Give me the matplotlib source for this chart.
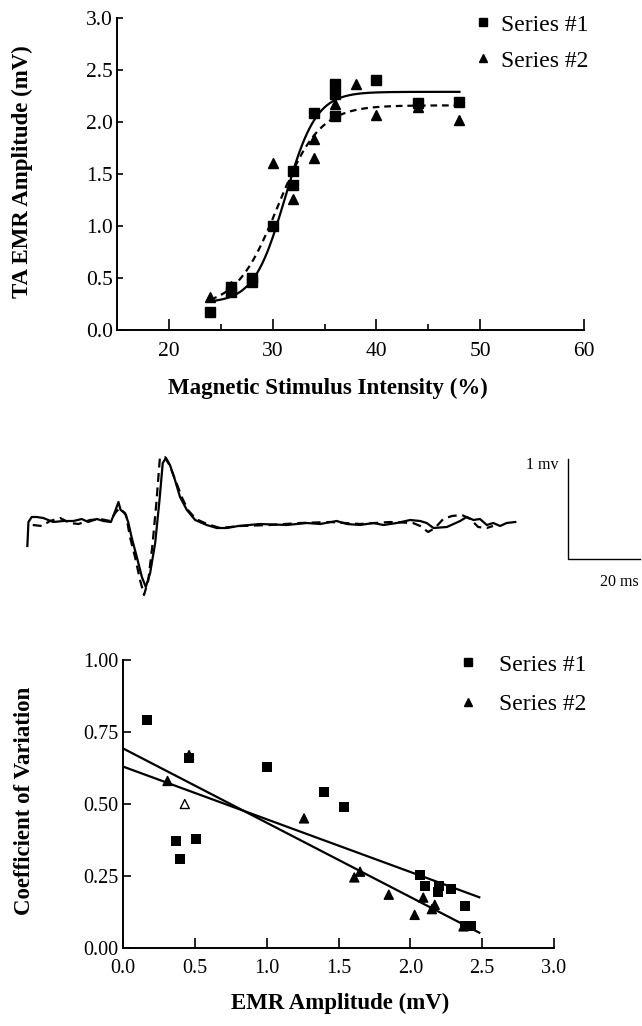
import numpy as np
import matplotlib
matplotlib.use("Agg")
import matplotlib.pyplot as plt
from matplotlib.lines import Line2D

plt.rcParams['font.family'] = ['Liberation Serif', 'DejaVu Serif']
plt.rcParams['mathtext.default'] = 'regular'

# ---------------- data: top panel (recruitment curve) ----------------
top_s1_x = [24, 26, 26, 28, 28, 30, 32, 32, 34, 36, 36, 36, 40, 44, 48]
top_s1_y = [0.17, 0.37, 0.41, 0.46, 0.50, 1.00, 1.53, 1.39, 2.09, 2.37, 2.27, 2.06, 2.40, 2.18, 2.19]
top_s2_x = [24, 26, 30, 32, 34, 34, 36, 38, 40, 44, 48]
top_s2_y = [0.32, 0.42, 1.61, 1.26, 1.84, 1.65, 2.17, 2.37, 2.07, 2.14, 2.02]
# Boltzmann fit parameters (bottom, top, midpoint, slope)
fit1_params = (0.26, 2.29, 31.2, 1.5)
fit2_params = (0.22, 2.16, 30.5, 2.0)
fit_range = (24, 48)
top_xticks = [20, 30, 40, 50, 60]
top_yticks = [0.0, 0.5, 1.0, 1.5, 2.0, 2.5, 3.0]

# ---------------- data: middle panel (EMR traces) ----------------
trace1_ms = [0.1, 0.4, 1.3, 2.7, 4.5, 7.3, 10.1, 12.9, 15.2, 17.0, 19.4, 21.2, 23.3, 24.4, 25.4,
             26.0, 27.2, 28.1, 29.1, 30.5, 31.9, 33.0, 34.2, 35.6, 36.8, 37.7, 38.6, 39.7, 41.1,
             42.5, 44.4, 46.7, 49.9, 52.7, 55.5, 58.7, 64.7, 72.1, 77.7, 81.4, 86.0, 88.8, 92.5,
             96.2, 99.0, 102.7, 106.4, 109.2, 111.0, 112.9, 116.6, 120.3, 122.1, 124.0, 125.8,
             127.7, 129.5, 131.4, 133.2, 135.6]
trace1_mv = [-0.26, -0.02, 0.03, 0.03, 0.02, -0.02, -0.01, -0.01, 0.01, -0.02, 0.01, -0.01, -0.02,
             0.08, 0.18, 0.10, 0.07, -0.02, -0.18, -0.37, -0.57, -0.67, -0.53, -0.23, 0.20, 0.57,
             0.62, 0.55, 0.40, 0.23, 0.10, 0.00, -0.05, -0.08, -0.08, -0.06, -0.04, -0.05, -0.03,
             -0.04, -0.01, -0.04, -0.05, -0.03, -0.05, -0.03, 0.00, -0.01, -0.03, -0.08, -0.07,
             -0.01, 0.03, 0.00, 0.01, -0.05, -0.03, -0.06, -0.03, -0.02]
trace2_ms = [1.6, 4.1, 6.4, 9.2, 11.9, 14.3, 17.5, 20.3, 23.1, 24.7, 25.8, 27.5, 28.6, 30.0, 31.4,
             32.5, 33.7, 34.9, 36.0, 36.9, 38.3, 39.7, 41.4, 43.1, 44.7, 46.9, 50.0, 53.6, 59.2,
             67.5, 75.8, 84.2, 92.5, 100.8, 107.2, 109.2, 111.4, 113.3, 115.6, 118.0, 120.8, 123.1,
             125.3, 127.7, 129.4]
trace2_mv = [-0.05, -0.06, -0.01, 0.02, -0.03, -0.04, 0.00, 0.01, -0.01, 0.08, 0.12, 0.05, -0.17,
             -0.37, -0.60, -0.75, -0.60, -0.23, 0.20, 0.62, 0.63, 0.54, 0.38, 0.22, 0.10, 0.01,
             -0.04, -0.08, -0.06, -0.05, -0.03, -0.02, -0.04, -0.02, -0.03, -0.06, -0.12, -0.08,
             0.01, 0.04, 0.05, 0.01, -0.07, -0.08, -0.06]
scalebar_t0 = 150.3
scalebar_v0 = -0.39
scalebar_ms = 20
scalebar_mv = 1

# ---------------- data: bottom panel (CV vs amplitude) ----------------
bot_s1_x = [0.17, 0.46, 0.37, 0.40, 0.51, 1.00, 1.40, 1.54, 2.07, 2.10, 2.20, 2.19, 2.28, 2.38, 2.38, 2.42]
bot_s1_y = [0.79, 0.66, 0.37, 0.31, 0.38, 0.63, 0.54, 0.49, 0.255, 0.215, 0.215, 0.195, 0.205, 0.145, 0.075, 0.075]
bot_s2_x = [0.31, 0.43, 0.46, 1.26, 1.61, 1.65, 1.85, 2.03, 2.09, 2.15, 2.17, 2.37]
bot_s2_y = [0.58, 0.50, 0.67, 0.45, 0.245, 0.265, 0.185, 0.115, 0.175, 0.135, 0.15, 0.075]
bot_s2_filled = [True, False, True, True, True, True, True, True, True, True, True, True]
reg1 = (0.63, -0.183)   # intercept, slope (series #1)
reg2 = (0.693, -0.258)  # intercept, slope (series #2)
reg_range = (0.0, 2.48)
bot_xticks = [0.0, 0.5, 1.0, 1.5, 2.0, 2.5, 3.0]
bot_yticks = [0.00, 0.25, 0.50, 0.75, 1.00]

labels = ["Series #1", "Series #2"]

# ---------------- figure ----------------
W, H = 642, 1026
fig = plt.figure(figsize=(W / 100, H / 100), dpi=100)

def px_axes(l, t, r, b):
    return fig.add_axes([l / W, 1 - b / H, (r - l) / W, (b - t) / H])

spine_lw = 1.4
tick_fs_top = 15.5
tick_fs_bot = 14.5
label_fs = 16.5
legend_fs = 17

# ---------- top panel ----------
ax1 = px_axes(117, 18, 584, 330)
ax1.set_xlim(15, 60)
ax1.set_ylim(0, 3.0)
for s in ['top', 'right']:
    ax1.spines[s].set_visible(False)
for s in ['left', 'bottom']:
    ax1.spines[s].set_linewidth(spine_lw)
ax1.set_xticks(top_xticks)
ax1.set_xticks([25, 35, 45], minor=True)
ax1.set_yticks(top_yticks)
ax1.set_xticklabels([str(v) for v in top_xticks])
ax1.set_yticklabels([f"{v:.1f}" for v in top_yticks])
ax1.tick_params(axis='x', which='major', direction='in', length=8, width=1.2, pad=9, labelsize=tick_fs_top)
ax1.tick_params(axis='x', which='minor', direction='in', length=4, width=1.2)
ax1.tick_params(axis='y', which='major', direction='in', length=4, width=1.2, pad=3, labelsize=tick_fs_top)

xx = np.linspace(fit_range[0], fit_range[1], 300)
def boltz(x, p):
    a1, a2, x0, dx = p
    return a1 + (a2 - a1) / (1 + np.exp(-(x - x0) / dx))
ax1.plot(xx, boltz(xx, fit1_params), color='black', lw=1.6, zorder=2)
ax1.plot(xx, boltz(xx, fit2_params), color='black', lw=1.6, ls=(0, (3, 2.2)), zorder=2)
ax1.plot(top_s1_x, top_s1_y, ls='none', marker='s', ms=7.5, color='black', zorder=3)
ax1.plot(top_s2_x, top_s2_y, ls='none', marker='^', ms=7.0, color='black', zorder=3)

handles = [Line2D([], [], ls='none', marker='s', ms=5.5, color='black'),
           Line2D([], [], ls='none', marker='^', ms=5.5, color='black')]
ax1.legend(handles, labels, loc='upper left', bbox_to_anchor=(476 / W, 1 - 14 / H),
           bbox_transform=fig.transFigure, frameon=False, fontsize=legend_fs,
           handlelength=0.6, handletextpad=0.45, labelspacing=0.62, borderpad=0, borderaxespad=0)

fig.text(22 / W, 1 - 172 / H, "TA EMR Amplitude (mV)", rotation=90, ha='center', va='center',
         fontsize=label_fs, fontweight='bold')
fig.text(328 / W, 1 - 388 / H, "Magnetic Stimulus Intensity (%)", ha='center', va='center',
         fontsize=label_fs, fontweight='bold')

# ---------- middle panel (traces) ----------
ax2 = px_axes(27, 450, 642, 600)
ax2.set_xlim(0, 170.8)
ax2.set_ylim(-0.80, 0.70)
ax2.axis('off')
ax2.plot(trace1_ms, trace1_mv, color='black', lw=1.6, clip_on=False)
ax2.plot(trace2_ms, trace2_mv, color='black', lw=1.6, ls=(0, (4, 2.5)), clip_on=False)
ax2.plot([scalebar_t0, scalebar_t0, scalebar_t0 + scalebar_ms],
         [scalebar_v0 + scalebar_mv, scalebar_v0, scalebar_v0], color='black', lw=1.0, clip_on=False)
ax2.text(scalebar_t0 - 2.8, scalebar_v0 + scalebar_mv - 0.06, "1 mv", ha='right', va='center', fontsize=11.5)
ax2.text(scalebar_t0 + 14.2, scalebar_v0 - 0.23, "20 ms", ha='center', va='center', fontsize=11.5)

# ---------- bottom panel ----------
ax3 = px_axes(123, 660, 554, 948)
ax3.set_xlim(0, 3.0)
ax3.set_ylim(0, 1.0)
for s in ['top', 'right']:
    ax3.spines[s].set_visible(False)
for s in ['left', 'bottom']:
    ax3.spines[s].set_linewidth(spine_lw)
ax3.set_xticks(bot_xticks)
ax3.set_yticks(bot_yticks)
ax3.set_xticklabels([f"{v:.1f}" for v in bot_xticks])
ax3.set_yticklabels([f"{v:.2f}" for v in bot_yticks])
ax3.tick_params(axis='x', direction='in', length=7, width=1.2, pad=8, labelsize=tick_fs_bot)
ax3.tick_params(axis='y', direction='in', length=6, width=1.2, pad=3, labelsize=tick_fs_bot)

rx = np.array(reg_range)
ax3.plot(rx, reg1[0] + reg1[1] * rx, color='black', lw=1.6, zorder=2)
ax3.plot(rx, reg2[0] + reg2[1] * rx, color='black', lw=1.6, zorder=2)
ax3.scatter(bot_s1_x, bot_s1_y, marker='s', s=52, color='black', zorder=3, linewidths=0)
faces = ['black' if f else 'white' for f in bot_s2_filled]
ax3.scatter(bot_s2_x, bot_s2_y, marker='^', s=42, facecolors=faces, edgecolors='black',
            linewidths=1.0, zorder=3)

handles3 = [Line2D([], [], ls='none', marker='s', ms=5.5, color='black'),
            Line2D([], [], ls='none', marker='^', ms=5.5, color='black')]
ax3.legend(handles3, labels, loc='upper left', bbox_to_anchor=(461 / W, 1 - 654 / H),
           bbox_transform=fig.transFigure, frameon=False, fontsize=legend_fs,
           handlelength=0.6, handletextpad=1.0, labelspacing=0.75, borderpad=0, borderaxespad=0)

fig.text(25 / W, 1 - 801 / H, "Coefficient of Variation", rotation=90, ha='center', va='center',
         fontsize=label_fs, fontweight='bold')
fig.text(340 / W, 1 - 1003 / H, "EMR Amplitude (mV)", ha='center', va='center',
         fontsize=label_fs, fontweight='bold')

fig.savefig("out.png", dpi=100)
